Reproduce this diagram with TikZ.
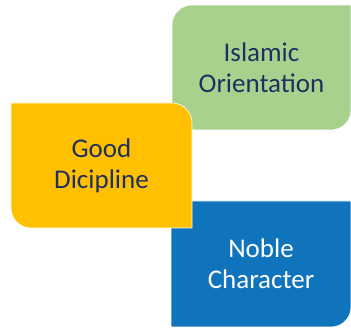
\documentclass[tikz,border=0pt]{standalone}
\usepackage{fontspec}
\setmainfont{Carlito}
\definecolor{leaf}{HTML}{A9D18E}
\definecolor{amber}{HTML}{FFC000}
\definecolor{ocean}{HTML}{0F74BC}
\definecolor{navy}{HTML}{1F3060}
\def\rad{20pt}
\begin{document}
\begin{tikzpicture}[x=1pt,y=1pt]
    \tikzstyle{block}=[draw=white, line width=0.6pt]
    \tikzstyle{boxtext}=[align=center, font=\fontsize{27}{31}\selectfont, text=navy]
    \useasboundingbox (0,0) rectangle (351,328);

    % green box, round top left and bottom right
    \path[block, fill=leaf] (172,198) [rounded corners=\rad] -- (172,323) [sharp corners] -- (351,323)
        [rounded corners=\rad] -- (351,198) [sharp corners] -- cycle;
    % blue box, round bottom right
    \path[block, fill=ocean] (171,127) -- (351,127) [rounded corners=\rad] -- (351,1)
        [sharp corners] -- (171,1) -- cycle;
    % yellow box, round top right and bottom left
    \path[block, fill=amber] (11,225) [rounded corners=\rad] -- (192,225) [sharp corners] -- (192,100)
        [rounded corners=\rad] -- (11,100) [sharp corners] -- cycle;

    \node[boxtext] (islamic) at (261.5,260.5) {Islamic\\Orientation};
    \node[boxtext] (good) at (101.5,162.5) {Good\\Dicipline};
    \node[boxtext, text=white] (noble) at (261,64) {Noble\\Character};
\end{tikzpicture}
\end{document}
